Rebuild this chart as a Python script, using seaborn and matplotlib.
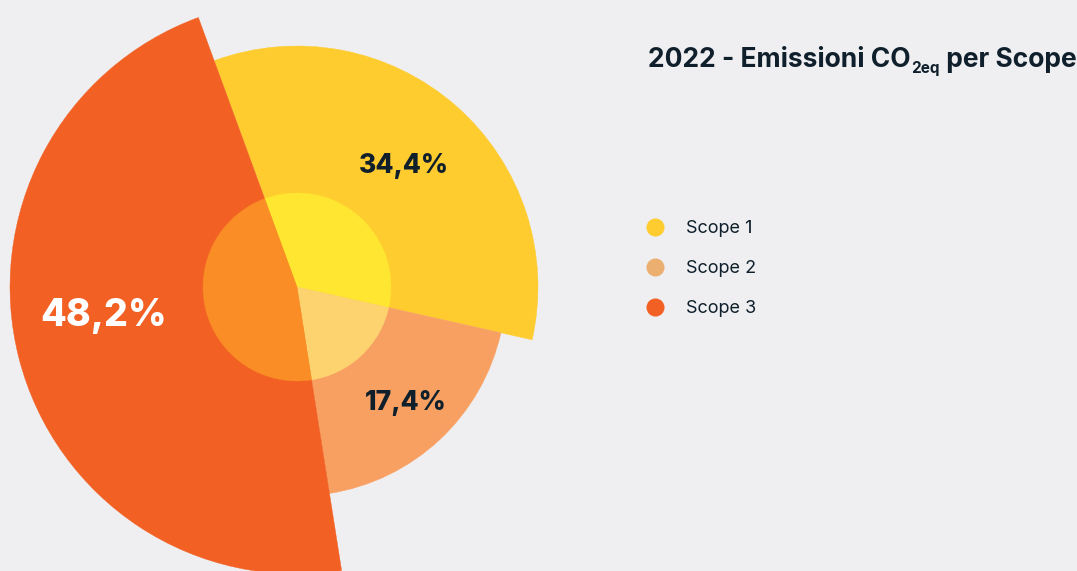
import matplotlib
matplotlib.use("Agg")
import matplotlib.pyplot as plt
from matplotlib.lines import Line2D
import seaborn as sns
import numpy as np

# %% Dati
scope = ["Scope 1", "Scope 2", "Scope 3"]
quota = [34.1, 19.0, 46.9]            # share of the circle
etichette = ["34,4%", "17,4%", "48,2%"]
raggio = [241, 209, 287]              # z value of the variable pie (outer radius)
raggio_centro = 94                    # inner disc

colori = ["#FECC2F", "#F8A062", "#F26024"]
colori_centro = ["#FFE631", "#FDD36F", "#FA8D25"]
colori_legenda = ["#FECC2F", "#EBB070", "#F26024"]
sfondo = "#EFEFF1"
scuro = "#0F1F2B"

sns.set_theme(style="white", rc={"figure.facecolor": sfondo, "axes.facecolor": sfondo})
plt.rcParams["font.family"] = ["Inter", "DejaVu Sans"]

W, H = 1077, 571
fig = plt.figure(figsize=(W/100, H/100), dpi=100)

# polar axes centred on the pie (pixel units)
cx, cy, R = 297, 287, 300
ax = fig.add_axes([(cx-R)/W, (H-cy-R)/H, 2*R/W, 2*R/H], projection="polar")
ax.set_theta_zero_location("N")
ax.set_theta_direction(-1)
ax.set_ylim(0, R)
ax.axis("off")

ampiezza = np.deg2rad(np.array(quota) * 3.6)
inizio = np.deg2rad(-20.1) + np.concatenate([[0], np.cumsum(ampiezza)[:-1]])
medio = inizio + ampiezza/2

ax.bar(inizio, raggio, width=ampiezza, align="edge", color=colori,
       edgecolor=colori, linewidth=0.3)
ax.bar(inizio, [raggio_centro]*3, width=ampiezza, align="edge", color=colori_centro,
       edgecolor=colori_centro, linewidth=0.3)

# data labels (angle nudge and radial position per slice)
spinta = [0, 0, np.deg2rad(6)]
distanza = [0.67, 0.76, 0.68]
for i, lab in enumerate(etichette):
    big = i == 2
    ax.text(medio[i] + spinta[i], distanza[i]*raggio[i], lab, ha="center", va="center",
            fontsize=27 if big else 19, fontweight="heavy",
            color="white" if big else scuro)

# title with subscript
r = fig.canvas.get_renderer()
yt = 1 - 67/H
t1 = fig.text(648/W, yt, "2022 - Emissioni CO", fontsize=19, fontweight="bold",
              color=scuro, va="baseline")
bb = t1.get_window_extent(r)
t2 = fig.text((bb.x1 + 1)/W, yt - 6/H, "2eq", fontsize=11, fontweight="bold",
              color=scuro, va="baseline")
bb2 = t2.get_window_extent(r)
fig.text(bb2.x1/W, yt, " per Scope", fontsize=19, fontweight="bold",
         color=scuro, va="baseline")

# legend
maniglie = [Line2D([0], [0], marker="o", ls="", ms=13, mfc=c, mec="none")
            for c in colori_legenda]
fig.legend(maniglie, scope, loc="upper left", bbox_to_anchor=(646/W, 1 - 220/H),
           frameon=False, fontsize=13, handlelength=1.0, handletextpad=1.2,
           labelspacing=1.27, borderpad=0, borderaxespad=0, labelcolor=scuro)

fig.savefig("out.png", dpi=100, facecolor=sfondo)
